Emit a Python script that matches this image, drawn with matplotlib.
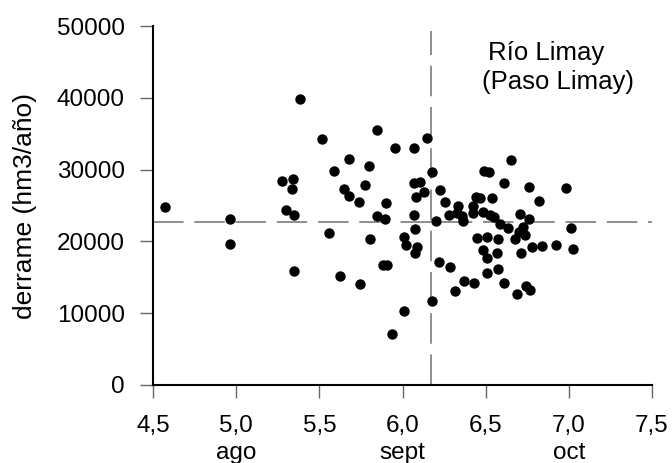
import matplotlib
matplotlib.use("Agg")
import matplotlib.pyplot as plt

plt.rcParams['font.family'] = ['Liberation Sans', 'DejaVu Sans']

# centro de masa del hidrograma (mes) vs derrame anual
centro = [4.57, 4.96, 4.96, 5.275, 5.34, 5.333, 5.297, 5.345, 5.345, 5.383,
          5.517, 5.558, 5.59, 5.626, 5.648, 5.678, 5.68, 5.737, 5.743, 5.775,
          5.801, 5.803, 5.847, 5.847, 5.903, 5.897, 5.885, 5.905, 5.957, 5.939,
          6.067, 6.146, 6.176, 6.067, 6.106, 6.132, 6.080, 6.067, 6.073, 6.009,
          6.020, 6.089, 6.073, 6.011, 6.176, 6.202, 6.228, 6.256, 6.222, 6.284,
          6.280, 6.336, 6.330, 6.358, 6.366, 6.316, 6.367, 6.429, 6.423, 6.427,
          6.443, 6.469, 6.447, 6.489, 6.521, 6.487, 6.539, 6.510, 6.487, 6.507,
          6.507, 6.527, 6.551, 6.574, 6.566, 6.574, 6.589, 6.611, 6.637, 6.608,
          6.655, 6.678, 6.688, 6.705, 6.702, 6.724, 6.738, 6.711, 6.743, 6.765,
          6.758, 6.758, 6.777, 6.823, 6.838, 6.925, 6.983, 7.016, 7.028]
derrame = [24830, 23080, 19600, 28410, 28690, 27250, 24370, 23630, 15920, 39790,
           34260, 21130, 29800, 15180, 27250, 31430, 26320, 25490, 14110, 27860,
           30540, 20380, 35470, 23540, 25300, 23080, 16670, 16670, 33050, 7150,
           32960, 34440, 29620, 28180, 28320, 26930, 26230, 23680, 21690, 20570,
           19500, 19260, 18340, 10350, 11700, 22840, 27110, 25530, 17130, 16480,
           23680, 24970, 23910, 23500, 22850, 13130, 14480, 14250, 25000, 24000,
           26230, 26050, 20520, 29800, 29620, 24150, 26090, 20650, 18800, 17680,
           15600, 23630, 23440, 20380, 18430, 16220, 22380, 28180, 21820, 14250,
           31270, 20300, 12630, 23800, 21350, 21960, 20890, 18430, 13740, 13180,
           27530, 23120, 19180, 25580, 19300, 19500, 27390, 21820, 19010]

media_centro = 6.17
media_derrame = 22700

xticks = [4.5, 5.0, 5.5, 6.0, 6.5, 7.0, 7.5]
xlabels = ['4,5', '5,0\nago', '5,5', '6,0\nsept', '6,5', '7,0\noct', '7,5']
yticks = [0, 10000, 20000, 30000, 40000, 50000]

fig = plt.figure(figsize=(6.72, 4.63), dpi=100)
ax = fig.add_axes([0.228, 0.1685, 0.742, 0.7753])

ax.axhline(media_derrame, color='#707070', lw=1.1, dashes=(20, 7))
ax.axvline(media_centro, ymin=0, ymax=0.985, color='#707070', lw=1.1, dashes=(20, 7))
ax.scatter(centro, derrame, s=56, color='black', zorder=3, linewidths=0)

ax.set_xlim(4.5, 7.5)
ax.set_ylim(0, 50000)
ax.set_xticks(xticks)
ax.set_xticklabels(xlabels, fontsize=17.5, linespacing=1.3, va='top')
ax.set_yticks(yticks)
ax.set_yticklabels([str(v) for v in yticks], fontsize=17.5)
ax.tick_params(axis='both', direction='out', length=9.5, width=1, color='#666666')
ax.tick_params(axis='x', pad=12)
ax.tick_params(axis='y', pad=11)

for side in ['top', 'right']:
    ax.spines[side].set_visible(False)
for side in ['left', 'bottom']:
    ax.spines[side].set_linewidth(1.5)

ax.set_ylabel('derrame (hm3/año)', fontsize=19, labelpad=14)

ax.text(0.672, 0.925, 'Río Limay', transform=ax.transAxes, fontsize=18.5,
        ha='left', va='center')
ax.text(0.659, 0.843, '(Paso Limay)', transform=ax.transAxes, fontsize=18.5,
        ha='left', va='center')

fig.savefig('out.png', dpi=100)
